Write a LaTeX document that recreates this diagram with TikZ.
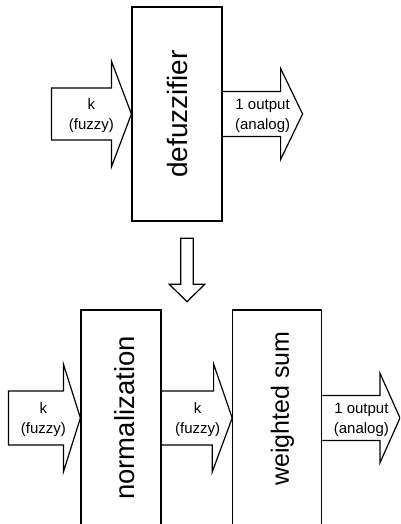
\documentclass[tikz,border=0pt]{standalone}
\usepackage{fontspec}
\setmainfont{Liberation Sans}
\usetikzlibrary{positioning}

\begin{document}
\begin{tikzpicture}[x=1pt,y=1pt,line width=1.2pt,line join=miter,
  box/.style={draw,inner sep=0pt},
  boxtext/.style={rotate=90,font=\fontsize{27.5}{30}\selectfont},
  arrowtext/.style={align=center,inner sep=0pt,font=\fontsize{15}{20}\selectfont}]
\useasboundingbox (0,0) rectangle (400,524);
\clip (0,0) rectangle (400,524);
% upper part: one block
\node[box,minimum width=90pt,minimum height=214pt] (defuz) at (177,410) {};
\node[boxtext,font=\fontsize{28}{30}\selectfont] (defuzlabel) at (defuz.center) {defuzzifier};
\draw (defuz.west) -- ++(-20,53) -- ++(0,-27) -- ++(-60,0) -- ++(0,-52) -- ++(60,0) -- ++(0,-27) -- cycle;
\node[arrowtext] (defuzin) at ([xshift=-40pt,yshift=-2pt]defuz.west) {k\\(fuzzy)};
\draw ([yshift=22.5pt]defuz.east) -- ++(58,0) -- ++(0,23) -- ++(22,-45.5) -- ++(-22,-45.5) -- ++(0,23) -- ([yshift=-22.5pt]defuz.east);
\node[arrowtext] (defuzout) at ([xshift=40pt,yshift=-2pt]defuz.east) {1 output\\(analog)};
% big arrow down
\coordinate (downtip) at (187,222.3);
\draw (downtip) -- ++(-17.7,17.4) -- ++(11.4,0) -- ++(0,46) -- ++(12.6,0) -- ++(0,-46) -- ++(11.4,0) -- cycle;
% lower part: two blocks
\node[box,minimum width=80pt,minimum height=216pt] (norm) at (121,106) {};
\node[box,minimum width=89pt,minimum height=216pt] (wsum) at (277.3,106) {};
\node[boxtext] (normlabel) at ([xshift=4pt]norm.center) {normalization};
\node[boxtext,font=\fontsize{25}{30}\selectfont] (wsumlabel) at ([xshift=5pt,yshift=9.5pt]wsum.center) {weighted sum};
\draw (norm.west) -- ++(-17,54) -- ++(0,-27) -- ++(-55,0) -- ++(0,-54) -- ++(55,0) -- ++(0,-27) -- cycle;
\node[arrowtext] (normin) at ([xshift=-37pt,yshift=-2pt]norm.west) {k\\(fuzzy)};
\draw ([yshift=27pt]norm.east) -- ++(52,0) -- ++(0,27) -- (wsum.west) -- ++(-20,-54) -- ++(0,27) -- ([yshift=-27pt]norm.east);
\node[arrowtext] (normout) at ([xshift=36pt,yshift=-2pt]norm.east) {k\\(fuzzy)};
\draw ([yshift=22.5pt]wsum.east) -- ++(57.6,0) -- ++(0,22.2) -- ++(20,-44.7) -- ++(-20,-44.7) -- ++(0,22.2) -- ([yshift=-22.5pt]wsum.east);
\node[arrowtext] (wsumout) at ([xshift=39pt,yshift=-1.5pt]wsum.east) {1 output\\(analog)};
\end{tikzpicture}
\end{document}
